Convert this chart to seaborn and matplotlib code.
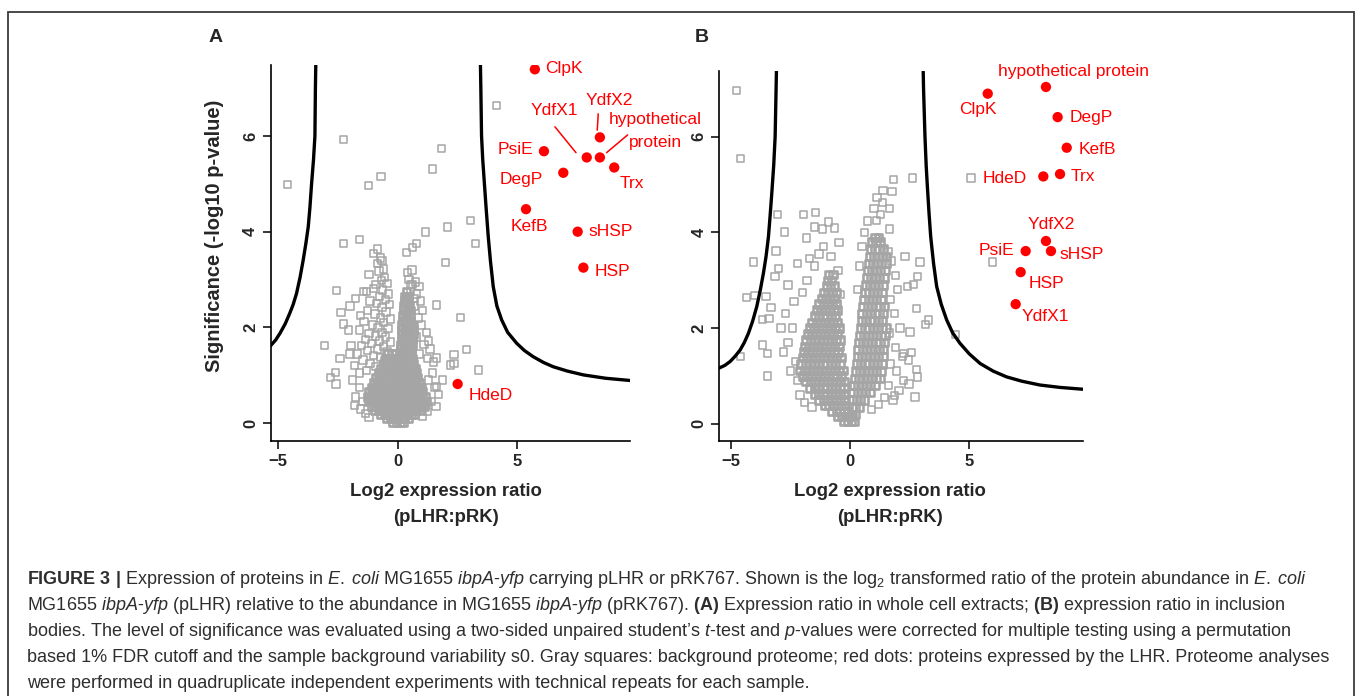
import matplotlib
matplotlib.use("Agg")
import matplotlib.pyplot as plt
import matplotlib.patches as mpatches
import pandas as pd
import seaborn as sns

# ---------------- data ----------------
# red dots (proteins expressed by the LHR)
names_a = ["ClpK", "YdfX2", "PsiE", "YdfX1", "hypothetical protein", "Trx",
           "DegP", "KefB", "sHSP", "HSP", "HdeD"]
x_a = [5.74, 8.46, 6.12, 7.91, 8.46, 9.06, 6.93, 5.37, 7.53, 7.77, 2.51]
y_a = [7.39, 5.97, 5.68, 5.55, 5.55, 5.34, 5.23, 4.47, 4.00, 3.25, 0.82]

names_b = ["hypothetical protein", "ClpK", "DegP", "KefB", "Trx", "HdeD",
           "YdfX2", "sHSP", "PsiE", "HSP", "YdfX1"]
x_b = [8.21, 5.77, 8.70, 9.08, 8.80, 8.10, 8.21, 8.42, 7.36, 7.15, 6.94]
y_b = [7.04, 6.90, 6.41, 5.77, 5.22, 5.17, 3.82, 3.61, 3.61, 3.17, 2.50]

# FDR threshold curves (left / right branch)
curve_a_left = [(-3.42, 7.6), (-3.44, 7.0), (-3.46, 6.0), (-3.52, 5.5), (-3.60, 5.0),
                (-3.67, 4.5), (-3.74, 4.1), (-3.84, 3.75), (-3.95, 3.41), (-4.08, 3.05),
                (-4.23, 2.71), (-4.37, 2.48), (-4.51, 2.30), (-4.70, 2.08), (-4.92, 1.88),
                (-5.10, 1.74), (-5.35, 1.60)]
curve_a_right = [(3.46, 7.6), (3.48, 7.0), (3.51, 6.0), (3.56, 5.5), (3.63, 5.0),
                 (3.70, 4.5), (3.79, 3.9), (3.88, 3.4), (4.00, 2.85), (4.15, 2.45),
                 (4.35, 2.16), (4.60, 1.90), (4.98, 1.67), (5.30, 1.52), (5.67, 1.39),
                 (6.10, 1.27), (6.51, 1.18), (7.10, 1.09), (7.77, 1.01), (8.70, 0.94),
                 (9.80, 0.89)]
curve_b_left = [(-3.08, 7.5), (-3.10, 7.0), (-3.14, 6.0), (-3.20, 5.4), (-3.28, 4.82),
                (-3.35, 4.35), (-3.42, 3.91), (-3.52, 3.5), (-3.63, 3.15), (-3.76, 2.8),
                (-3.91, 2.45), (-4.08, 2.15), (-4.26, 1.89), (-4.43, 1.70), (-4.61, 1.54),
                (-4.82, 1.41), (-5.03, 1.30), (-5.25, 1.22), (-5.55, 1.15)]
curve_b_right = [(3.06, 7.5), (3.08, 7.0), (3.14, 6.0), (3.19, 5.4), (3.24, 4.96),
                 (3.31, 4.4), (3.38, 3.91), (3.50, 3.35), (3.63, 2.87), (3.82, 2.5),
                 (4.05, 2.17), (4.30, 1.90), (4.61, 1.68), (5.00, 1.46), (5.45, 1.26),
                 (6.00, 1.10), (6.56, 0.98), (7.20, 0.89), (7.96, 0.81), (8.80, 0.76),
                 (9.80, 0.72)]

# gray squares, panel A: isolated points
outl_a = [(-4.60, 4.98), (-2.27, 5.93), (-0.70, 5.15), (-1.21, 4.96), (1.84, 5.73),
          (1.46, 5.31), (4.14, 6.64), (3.05, 4.24), (2.09, 4.10), (1.16, 3.99),
          (3.26, 3.76), (2.01, 3.35), (-2.27, 3.76), (-1.59, 3.84), (0.79, 3.76),
          (0.63, 3.67), (0.36, 3.57), (-0.85, 3.64), (-2.55, 2.77), (-1.44, 2.75),
          (-2.00, 2.45), (1.63, 2.47), (2.63, 2.21), (-2.37, 2.31), (-2.27, 2.07),
          (-3.07, 1.63), (-2.41, 1.35), (-2.59, 1.06), (-2.80, 0.95), (-2.58, 0.82),
          (-1.81, 0.37), (2.89, 1.54), (2.36, 1.44), (2.36, 1.25), (3.37, 1.11),
          (2.22, 1.22), (1.63, 1.36), (1.30, 1.72), (1.89, 0.90), (1.63, 0.77)]
# gray squares, panel A: scattered wings around the core
wing_a = [(-0.72, 3.45), (-0.65, 3.40), (-0.85, 3.33), (-0.60, 3.22), (-0.78, 3.18),
          (-0.55, 3.05), (-0.68, 2.98), (-0.90, 2.90), (-0.45, 2.92), (-1.00, 2.82),
          (-0.62, 2.78), (-0.38, 2.70), (-0.75, 2.65), (-0.50, 2.58), (-1.15, 2.55),
          (-0.88, 2.50), (-0.35, 2.48), (-0.65, 2.42), (-1.25, 2.35), (-0.48, 2.32),
          (-0.95, 2.28), (-0.72, 2.20), (-0.30, 2.18), (-1.40, 2.12), (-0.58, 2.10),
          (-1.05, 2.05), (-0.82, 2.00), (-0.40, 1.98), (-1.60, 1.95), (-0.65, 1.90),
          (-1.20, 1.88), (-0.92, 1.82), (-0.50, 1.80), (-1.35, 1.75), (-0.75, 1.72),
          (-0.30, 1.70), (-1.10, 1.66), (-1.50, 1.62), (-0.60, 1.60), (-0.85, 1.55),
          (-1.25, 1.52), (-0.45, 1.50), (-1.70, 1.45), (-1.00, 1.42), (-0.70, 1.38),
          (-1.45, 1.32), (-0.55, 1.30), (-1.15, 1.25), (-1.80, 1.20), (-0.90, 1.18),
          (-1.30, 1.10), (-1.60, 1.05), (-2.00, 1.45), (-1.95, 1.62), (-2.05, 1.95),
          (-1.75, 2.60), (-1.55, 2.25), (-1.20, 3.10), (-1.00, 3.55), (-1.30, 2.75),
          (-1.90, 0.90), (-1.60, 0.75), (-1.75, 0.55), (-1.45, 0.45), (-1.55, 0.30),
          (-1.35, 0.20), (-1.20, 0.12),
          (0.75, 2.95), (0.90, 2.85), (0.62, 2.90), (0.80, 2.70), (0.95, 2.55),
          (0.70, 2.45), (1.05, 2.35), (0.85, 2.20), (1.00, 2.05), (1.20, 1.90),
          (0.80, 1.80), (1.10, 1.65), (1.35, 1.55), (0.90, 1.45), (1.25, 1.35),
          (1.50, 1.28), (1.45, 1.05), (1.30, 0.90), (1.55, 0.75), (1.70, 0.60),
          (1.40, 0.45), (1.60, 0.35), (1.25, 0.25), (1.05, 0.15), (0.70, 2.60),
          (0.55, 2.75), (0.48, 3.00), (0.40, 3.15), (0.60, 3.20), (0.55, 2.90)]
# gray squares, panel A: dense core, one row per significance level
core_a = [
    (0.03, [-0.20, -0.05, 0.10, 0.22]),
    (0.10, [-0.45, -0.30, -0.15, 0.00, 0.15, 0.30, 0.45]),
    (0.18, [-0.70, -0.55, -0.40, -0.24, -0.08, 0.08, 0.24, 0.40, 0.56, 0.70]),
    (0.27, [-0.95, -0.80, -0.64, -0.48, -0.32, -0.16, 0.00, 0.16, 0.32, 0.48, 0.64, 0.80, 0.95]),
    (0.36, [-1.10, -0.94, -0.78, -0.62, -0.46, -0.30, -0.14, 0.02, 0.18, 0.34, 0.50, 0.66, 0.82, 0.98, 1.12]),
    (0.45, [-1.20, -1.04, -0.88, -0.72, -0.56, -0.40, -0.24, -0.08, 0.08, 0.24, 0.40, 0.56, 0.72, 0.88, 1.04, 1.18]),
    (0.55, [-1.25, -1.09, -0.93, -0.77, -0.61, -0.45, -0.29, -0.13, 0.03, 0.19, 0.35, 0.51, 0.67, 0.83, 0.99, 1.15]),
    (0.65, [-1.20, -1.04, -0.88, -0.72, -0.56, -0.40, -0.24, -0.08, 0.08, 0.24, 0.40, 0.56, 0.72, 0.88, 1.04]),
    (0.75, [-1.10, -0.94, -0.78, -0.62, -0.46, -0.30, -0.14, 0.02, 0.18, 0.34, 0.50, 0.66, 0.82, 0.98]),
    (0.85, [-1.00, -0.84, -0.68, -0.52, -0.36, -0.20, -0.04, 0.12, 0.28, 0.44, 0.60, 0.76, 0.90]),
    (0.95, [-0.90, -0.74, -0.58, -0.42, -0.26, -0.10, 0.06, 0.22, 0.38, 0.54, 0.70, 0.84]),
    (1.05, [-0.80, -0.64, -0.48, -0.32, -0.16, 0.00, 0.16, 0.32, 0.48, 0.64, 0.78]),
    (1.15, [-0.70, -0.54, -0.38, -0.22, -0.06, 0.10, 0.26, 0.42, 0.58, 0.72]),
    (1.25, [-0.60, -0.44, -0.28, -0.12, 0.04, 0.20, 0.36, 0.52, 0.66]),
    (1.35, [-0.50, -0.34, -0.18, -0.02, 0.14, 0.30, 0.46, 0.60]),
    (1.45, [-0.40, -0.24, -0.08, 0.10, 0.26, 0.42, 0.56]),
    (1.55, [0.12, 0.28, 0.44, 0.58]),
    (1.65, [0.14, 0.30, 0.46, 0.60]),
    (1.75, [0.15, 0.31, 0.47, 0.62]),
    (1.85, [0.16, 0.32, 0.48, 0.64]),
    (1.95, [0.17, 0.33, 0.49, 0.65]),
    (2.05, [0.18, 0.34, 0.50, 0.62]),
    (2.15, [0.20, 0.36, 0.52]),
    (2.25, [0.22, 0.38, 0.52]),
    (2.35, [0.24, 0.40, 0.54]),
    (2.45, [0.26, 0.42, 0.50]),
    (2.55, [0.28, 0.44]),
    (2.65, [0.30, 0.44]),
    (2.75, [0.36]),
]

# gray squares, panel B: isolated points
outl_b = [(-4.75, 6.97), (-4.58, 5.54), (5.07, 5.14), (5.98, 3.38), (-4.05, 3.38),
          (-4.33, 2.64), (-3.98, 2.68), (-3.52, 2.66), (-3.67, 2.18), (-3.39, 2.20),
          (-3.31, 2.43), (-3.67, 1.65), (-3.46, 1.47), (-4.58, 1.40), (-3.46, 1.00),
          (-3.04, 4.37), (-2.75, 4.01), (-3.10, 3.61), (-3.00, 3.25), (-3.14, 3.08),
          (-1.96, 4.37), (-1.44, 4.41), (-1.49, 4.11), (-0.91, 4.22), (-0.66, 4.09),
          (-1.16, 4.07), (-0.46, 3.79), (-1.82, 3.88), (1.82, 5.11), (2.63, 5.14),
          (1.76, 4.85), (1.38, 4.88), (1.13, 4.73), (1.35, 4.62), (1.01, 4.50),
          (1.65, 4.50), (1.28, 4.37), (0.74, 4.24), (1.12, 4.25), (1.65, 4.07),
          (2.93, 3.38), (2.30, 3.49), (2.83, 3.08), (2.67, 2.91), (2.40, 2.87),
          (2.79, 2.41), (3.28, 2.17), (3.16, 2.08), (4.43, 1.87), (2.51, 1.92),
          (2.58, 1.49), (2.79, 1.14), (2.83, 0.98), (2.72, 0.56), (2.47, 0.83),
          (1.87, 0.59), (2.44, 1.33), (2.23, 1.47)]
wing_b = [(-2.40, 2.00), (-2.60, 1.70), (-2.30, 1.30), (-2.50, 1.10), (-2.20, 0.90),
          (-2.70, 2.30), (-2.35, 2.55), (-2.00, 2.75), (-1.80, 3.00), (-1.50, 3.30),
          (-1.30, 3.55), (-1.10, 3.70), (-0.80, 3.50), (-2.80, 1.50), (-2.90, 2.00),
          (-2.60, 2.90), (-2.20, 3.35), (-1.70, 3.45), (-0.50, 3.20), (-0.40, 2.70),
          (-2.10, 0.60), (-1.90, 0.45), (-1.60, 0.35),
          (1.60, 3.60), (1.75, 3.40), (1.90, 3.10), (2.00, 2.80), (1.70, 2.60),
          (1.85, 2.30), (2.10, 2.00), (1.65, 1.90), (1.90, 1.60), (2.20, 1.40),
          (1.70, 1.25), (1.95, 1.10), (2.25, 0.90), (1.60, 0.80), (1.45, 0.55),
          (1.20, 0.40), (0.90, 0.30), (1.80, 0.50), (2.05, 0.70), (0.30, 2.80),
          (0.40, 3.30), (0.50, 3.70), (0.60, 4.00)]
core_b = [
    (0.05, [-0.25, -0.10, 0.05, 0.18]),
    (0.15, [-0.50, -0.35, -0.20, -0.05, 0.10]),
    (0.20, [0.05, 0.20]),
    (0.25, [-0.75, -0.58, -0.42, -0.26, -0.10]),
    (0.35, [0.08, 0.24, 0.40]),
    (0.38, [-1.05, -0.88, -0.70, -0.52, -0.35, -0.18]),
    (0.50, [-1.30, -1.12, -0.94, -0.76, -0.58, -0.40, -0.22, 0.10, 0.27, 0.44, 0.60]),
    (0.62, [-1.50, -1.32, -1.14, -0.96, -0.78, -0.60, -0.42, -0.24]),
    (0.65, [0.12, 0.30, 0.48, 0.66, 0.84]),
    (0.75, [-1.70, -1.50, -1.32, -1.14, -0.96, -0.78, -0.60, -0.42, -0.25]),
    (0.80, [0.15, 0.33, 0.51, 0.69, 0.87, 1.05]),
    (0.88, [-1.85, -1.66, -1.48, -1.30, -1.12, -0.94, -0.76, -0.58, -0.40, -0.24]),
    (0.95, [0.18, 0.36, 0.54, 0.72, 0.90, 1.08, 1.25]),
    (1.00, [-2.00, -1.80, -1.62, -1.44, -1.26, -1.08, -0.90, -0.72, -0.54, -0.36]),
    (1.10, [0.22, 0.40, 0.58, 0.76, 0.94, 1.12, 1.30]),
    (1.12, [-2.10, -1.90, -1.72, -1.54, -1.36, -1.18, -1.00, -0.82, -0.64, -0.46, -0.30]),
    (1.25, [-2.05, -1.86, -1.68, -1.50, -1.32, -1.14, -0.96, -0.78, -0.60, -0.42,
            0.26, 0.44, 0.62, 0.80, 0.98, 1.16, 1.34]),
    (1.38, [-2.00, -1.82, -1.64, -1.46, -1.28, -1.10, -0.92, -0.74, -0.56, -0.38]),
    (1.40, [0.30, 0.48, 0.66, 0.84, 1.02, 1.20, 1.38]),
    (1.50, [-1.95, -1.76, -1.58, -1.40, -1.22, -1.04, -0.86, -0.68, -0.50]),
    (1.55, [0.33, 0.51, 0.69, 0.87, 1.05, 1.23, 1.41]),
    (1.62, [-1.90, -1.72, -1.54, -1.36, -1.18, -1.00, -0.82, -0.64, -0.46]),
    (1.70, [0.36, 0.54, 0.72, 0.90, 1.08, 1.26, 1.44]),
    (1.75, [-1.85, -1.66, -1.48, -1.30, -1.12, -0.94, -0.76, -0.58, -0.42]),
    (1.85, [0.40, 0.58, 0.76, 0.94, 1.12, 1.30, 1.46]),
    (1.88, [-1.78, -1.60, -1.42, -1.24, -1.06, -0.88, -0.70, -0.52]),
    (2.00, [-1.70, -1.52, -1.34, -1.16, -0.98, -0.80, -0.62, -0.46,
            0.44, 0.62, 0.80, 0.98, 1.16, 1.34, 1.50]),
    (2.12, [-1.60, -1.42, -1.24, -1.06, -0.88, -0.70, -0.52]),
    (2.15, [0.47, 0.65, 0.83, 1.01, 1.19, 1.37]),
    (2.25, [-1.50, -1.32, -1.14, -0.96, -0.78, -0.60]),
    (2.30, [0.50, 0.68, 0.86, 1.04, 1.22, 1.40]),
    (2.38, [-1.40, -1.22, -1.04, -0.86, -0.68, -0.52]),
    (2.45, [0.54, 0.72, 0.90, 1.08, 1.26, 1.44]),
    (2.50, [-1.30, -1.12, -0.94, -0.76, -0.58]),
    (2.60, [0.58, 0.76, 0.94, 1.12, 1.30]),
    (2.62, [-1.20, -1.02, -0.84, -0.66]),
    (2.75, [-1.10, -0.92, -0.74, -0.58, 0.62, 0.80, 0.98, 1.16, 1.34]),
    (2.88, [-1.00, -0.82, -0.66]),
    (2.90, [0.66, 0.84, 1.02, 1.20, 1.38]),
    (3.00, [-0.95, -0.78]),
    (3.05, [0.70, 0.88, 1.06, 1.24, 1.42]),
    (3.12, [-0.90, -0.72]),
    (3.20, [0.74, 0.92, 1.10, 1.28, 1.46]),
    (3.35, [0.78, 0.96, 1.14, 1.32, 1.50]),
    (3.50, [0.82, 1.00, 1.18, 1.36, 1.54]),
    (3.65, [0.86, 1.04, 1.22, 1.40]),
    (3.80, [0.90, 1.08, 1.26]),
    (3.90, [1.05, 1.20]),
]

# ---------------- helpers ----------------
def loose(outl, wing):
    return pd.DataFrame(outl + wing, columns=["x", "y"])


def dense(core):
    xs, ys = [], []
    for yv, row in core:
        xs += row
        ys += [yv] * len(row)
    return pd.DataFrame({"x": xs, "y": ys})


W, H = 1358, 696


def fx(px):
    return px / W


def fy(py):
    return 1 - py / H


sns.set_style("white")
plt.rcParams["font.family"] = ["Liberation Sans", "DejaVu Sans"]
plt.rcParams["mathtext.fontset"] = "custom"
plt.rcParams["mathtext.rm"] = "Liberation Sans"
plt.rcParams["mathtext.it"] = "Liberation Sans:italic"
plt.rcParams["mathtext.bf"] = "Liberation Sans:bold"

fig = plt.figure(figsize=(W / 100, H / 100), dpi=100)

GRAY = "#a5a5a5"
RED = "#ff0000"

panels = [
    dict(rect=(270.7, 65, 630, 441), xlim=(-5.31, 9.72), ylim=(-0.37, 7.48),
         loose=loose(outl_a, wing_a), dense=dense(core_a), names=names_a,
         x=x_a, y=y_a, curves=(curve_a_left, curve_a_right), letter="A",
         letter_x=215.5, xlab_x=446),
    dict(rect=(719.3, 70.7, 1082.7, 441), xlim=(-5.48, 9.75), ylim=(-0.36, 7.38),
         loose=loose(outl_b, wing_b), dense=dense(core_b), names=names_b,
         x=x_b, y=y_b, curves=(curve_b_left, curve_b_right), letter="B",
         letter_x=702, xlab_x=890),
]

# label offsets in pixels (dx, dy up, ha)
offs_a = {"ClpK": (10.7, 1, "left"), "YdfX2": (9.3, 37.3, "center"),
          "YdfX1": (-32.7, 47, "center"), "PsiE": (-10.7, 1.7, "right"),
          "DegP": (-20, -6.3, "right"), "Trx": (5.7, -15.6, "left"),
          "KefB": (3.3, -17.7, "center"), "sHSP": (10.6, 0, "left"),
          "HSP": (11.7, -4, "left"), "HdeD": (10.6, -11.7, "left")}
offs_b = {"hypothetical protein": (-47.7, 15.3, "left"), "ClpK": (-28.4, -16, "left"),
          "DegP": (11.6, -0.4, "left"), "KefB": (11.6, -1.6, "left"),
          "Trx": (11, -2.4, "left"), "HdeD": (-60.6, -2.3, "left"),
          "YdfX2": (-18.3, 17, "left"), "sHSP": (8.3, -3, "left"),
          "PsiE": (-47.4, 0.3, "left"), "HSP": (7.6, -11, "left"),
          "YdfX1": (6, -12.7, "left")}
# leader lines in panel A (data coords)
leaders_a = [((6.58, 6.19), (7.46, 5.65)), ((8.39, 6.46), (8.35, 6.12)),
             ((9.62, 6.02), (8.74, 5.65))]

for i, p in enumerate(panels):
    l, t, r, b = p["rect"]
    ax = fig.add_axes([fx(l), fy(b), fx(r - l), (b - t) / H])
    # dense core drawn with heavier outlines so overlapping squares merge
    sns.scatterplot(data=p["dense"], x="x", y="y", ax=ax, marker="s", s=28,
                    facecolor="none", edgecolor=GRAY, linewidth=1.9, legend=False)
    sns.scatterplot(data=p["loose"], x="x", y="y", ax=ax, marker="s", s=28,
                    facecolor="none", edgecolor=GRAY, linewidth=1.1, legend=False)
    for cv in p["curves"]:
        cdf = pd.DataFrame(cv, columns=["x", "y"])
        sns.lineplot(data=cdf, x="x", y="y", ax=ax, sort=False, estimator=None,
                     color="black", linewidth=2.4)
    red = pd.DataFrame({"x": p["x"], "y": p["y"]})
    sns.scatterplot(data=red, x="x", y="y", ax=ax, marker="o", s=55, color=RED,
                    edgecolor="none", legend=False, zorder=5)

    offs = offs_a if i == 0 else offs_b
    for name, xv, yv in zip(p["names"], p["x"], p["y"]):
        if name == "hypothetical protein" and i == 0:
            ax.annotate("hypothetical", (xv, yv), xytext=(9.3, 37.7),
                        textcoords="offset pixels", color=RED, fontsize=12.5,
                        ha="left", va="center", annotation_clip=False)
            ax.annotate("protein", (xv, yv), xytext=(29.3, 15.4),
                        textcoords="offset pixels", color=RED, fontsize=12.5,
                        ha="left", va="center", annotation_clip=False)
            continue
        dx, dy, ha = offs[name]
        ax.annotate(name, (xv, yv), xytext=(dx, dy), textcoords="offset pixels",
                    color=RED, fontsize=12.5, ha=ha, va="center",
                    annotation_clip=False)
    if i == 0:
        for (x0, y0), (x1, y1) in leaders_a:
            ax.plot([x0, x1], [y0, y1], color=RED, lw=1.1, clip_on=False)

    ax.set_xlim(*p["xlim"])
    ax.set_ylim(*p["ylim"])
    ax.set_xticks([-5, 0, 5])
    ax.set_yticks([0, 2, 4, 6])
    ax.set_xlabel("")
    ax.set_ylabel("")
    for s in ["top", "right"]:
        ax.spines[s].set_visible(False)
    for s in ["left", "bottom"]:
        ax.spines[s].set_color("black")
        ax.spines[s].set_linewidth(1.2)
    ax.tick_params(axis="both", direction="out", length=6, width=1.1,
                   color="black", labelsize=12, bottom=True, left=True)
    ax.tick_params(axis="x", pad=3)
    ax.tick_params(axis="y", pad=3, labelrotation=90)
    for lab in ax.get_xticklabels() + ax.get_yticklabels():
        lab.set_fontweight("bold")
    for lab in ax.get_yticklabels():
        lab.set_va("center")

    fig.text(fx(p["letter_x"]), fy(38), p["letter"], fontsize=14,
             fontweight="bold", ha="center", va="center")
    fig.text(fx(p["xlab_x"]), fy(492), "Log2 expression ratio",
             fontsize=13.3, fontweight="bold", ha="center", va="center")
    fig.text(fx(p["xlab_x"]), fy(517), "(pLHR:pRK)",
             fontsize=13.3, fontweight="bold", ha="center", va="center")

fig.text(fx(215), fy(236), "Significance (-log10 p-value)", rotation=90,
         fontsize=14.5, fontweight="bold", ha="center", va="center")

# caption
caption = [
    r"$\mathbf{FIGURE\ 3\ |}$ Expression of proteins in $\mathit{E.\;coli}$ MG1655 "
    r"$\mathit{ibpA}$-$\mathit{yfp}$ carrying pLHR or pRK767. Shown is the log$_2$ "
    r"transformed ratio of the protein abundance in $\mathit{E.\;coli}$",
    r"MG1655 $\mathit{ibpA}$-$\mathit{yfp}$ (pLHR) relative to the abundance in MG1655 "
    r"$\mathit{ibpA}$-$\mathit{yfp}$ (pRK767). $\mathbf{(A)}$ Expression ratio in whole "
    r"cell extracts; $\mathbf{(B)}$ expression ratio in inclusion",
    r"bodies. The level of significance was evaluated using a two-sided unpaired "
    r"student’s $\mathit{t}$-test and $\mathit{p}$-values were corrected for multiple "
    r"testing using a permutation",
    "based 1% FDR cutoff and the sample background variability s0. Gray squares: "
    "background proteome; red dots: proteins expressed by the LHR. Proteome analyses",
    "were performed in quadruplicate independent experiments with technical repeats "
    "for each sample.",
]
for k, line in enumerate(caption):
    fig.text(fx(27), fy(580 + 25.8 * k), line, fontsize=13.0, color="#2e2e2e",
             ha="left", va="center")

fig.patches.append(mpatches.Rectangle((fx(8), -0.05), fx(1354 - 8), fy(12) + 0.05,
                                      transform=fig.transFigure, fill=False,
                                      edgecolor="#3c3c3c", linewidth=1.3))

fig.savefig("out.png", dpi=100)
